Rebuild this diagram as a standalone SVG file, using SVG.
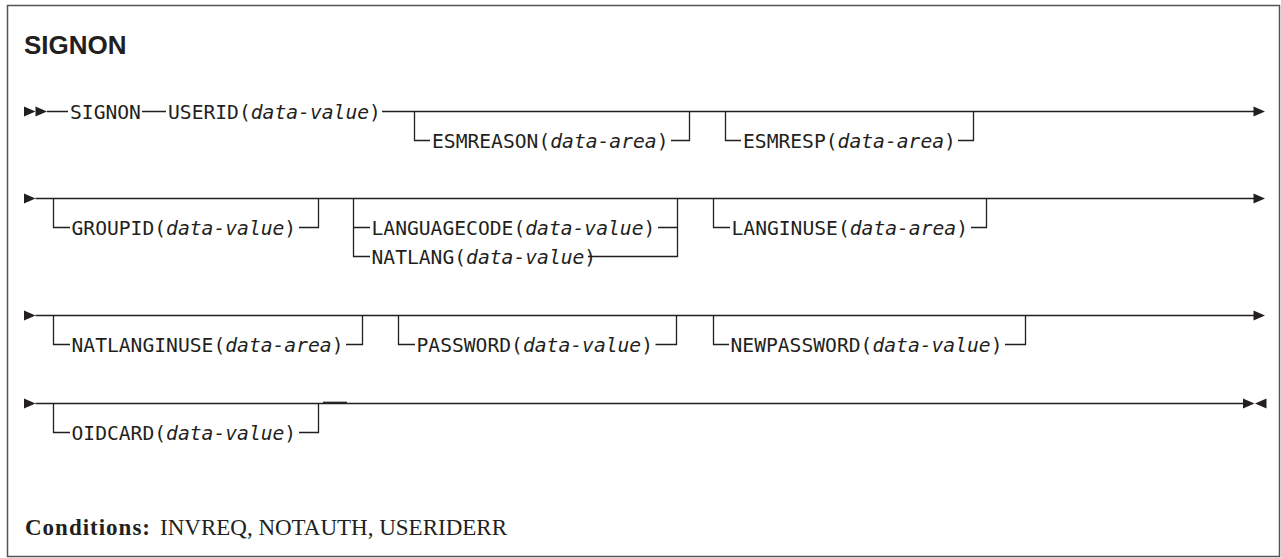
<svg xmlns="http://www.w3.org/2000/svg" width="1281" height="558" viewBox="0 0 1281 558">
<style>
.frame{fill:none;stroke:#555;stroke-width:1.5}
.ln{fill:none;stroke:#231f20;stroke-width:1.3}
.ah{fill:#231f20}
.kw{font-family:"DejaVu Sans Mono","Liberation Mono",monospace;font-size:19.65px;fill:#231f20}
.it{font-style:italic}
.title{font-family:"Liberation Sans",Arial,sans-serif;font-weight:bold;font-size:26px;fill:#231f20}
.cond{font-family:"Liberation Serif","Times New Roman",serif;font-size:23px;fill:#231f20}
.b{font-weight:bold}
</style>
<defs>
<path id="ar" d="M0,-5 L11.5,0 L0,5 Z"/>
<path id="al" d="M11.5,-5 L0,0 L11.5,5 Z"/>
</defs>
<rect class="frame" x="7.5" y="5.5" width="1272" height="551"/>
<g id="title"><text class="title" x="24" y="54">SIGNON</text></g>

<g id="connectors">
<g class="ah">
<use href="#ar" x="24" y="111.5"/><use href="#ar" x="35.5" y="111.5"/>
<use href="#ar" x="1253.5" y="111.5"/>
<use href="#ar" x="24" y="198.5"/><use href="#ar" x="1253.5" y="198.5"/>
<use href="#ar" x="24" y="315.5"/><use href="#ar" x="1253.5" y="315.5"/>
<use href="#ar" x="24" y="403.5"/><use href="#ar" x="1243" y="403.5"/><use href="#al" x="1255" y="403.5"/>
</g>
<path class="ln" d="M47 111.5 H68 M142 111.5 H166 M382 111.5 H1254"/>
<path class="ln" d="M414.5 111.5 V140.5 H430 M671 140.5 H689.5 V111.5"/>
<path class="ln" d="M725.5 111.5 V140.5 H741 M958 140.5 H973.5 V111.5"/>
<path class="ln" d="M35.5 198.5 H1254"/>
<path class="ln" d="M53.5 198.5 V227.5 H70 M299 227.5 H318.5 V198.5"/>
<path class="ln" d="M353.5 198.5 V256.5 H370 M353.5 227.5 H370 M658 227.5 H677.5 M588 256.5 H677.5 V198.5"/>
<path class="ln" d="M713.5 198.5 V227.5 H730 M971 227.5 H986.5 V198.5"/>
<path class="ln" d="M35.5 315.5 H1254"/>
<path class="ln" d="M53.5 315.5 V344.5 H70 M346 344.5 H362.5 V315.5"/>
<path class="ln" d="M398.5 315.5 V344.5 H415 M655.5 344.5 H676.5 V315.5"/>
<path class="ln" d="M713.5 315.5 V344.5 H729 M1005 344.5 H1025.5 V315.5"/>
<path class="ln" d="M35.5 403.5 H1243.5"/>
<path class="ln" d="M53.5 403.5 V432.5 H70 M299 432.5 H318.5 V403.5"/>
<path class="ln" d="M323 402.3 H347"/>
</g>

<g id="signon"><text class="kw" x="70" y="118.5">SIGNON</text></g>
<g id="userid"><text class="kw" x="168" y="118.5">USERID(<tspan class="it">data-value</tspan>)</text></g>
<g id="esmreason"><text class="kw" x="432" y="147.5">ESMREASON(<tspan class="it">data-area</tspan>)</text></g>
<g id="esmresp"><text class="kw" x="743" y="147.5">ESMRESP(<tspan class="it">data-area</tspan>)</text></g>
<g id="groupid"><text class="kw" x="71.5" y="234.5">GROUPID(<tspan class="it">data-value</tspan>)</text></g>
<g id="languagecode"><text class="kw" x="371.5" y="234.5">LANGUAGECODE(<tspan class="it">data-value</tspan>)</text></g>
<g id="natlang"><text class="kw" x="371.5" y="263.5">NATLANG(<tspan class="it">data-value</tspan>)</text></g>
<g id="langinuse"><text class="kw" x="731.5" y="234.5">LANGINUSE(<tspan class="it">data-area</tspan>)</text></g>
<g id="natlanginuse"><text class="kw" x="71.5" y="351.5">NATLANGINUSE(<tspan class="it">data-area</tspan>)</text></g>
<g id="password"><text class="kw" x="416.5" y="351.5">PASSWORD(<tspan class="it">data-value</tspan>)</text></g>
<g id="newpassword"><text class="kw" x="730.5" y="351.5">NEWPASSWORD(<tspan class="it">data-value</tspan>)</text></g>
<g id="oidcard"><text class="kw" x="71.5" y="439.5">OIDCARD(<tspan class="it">data-value</tspan>)</text></g>

<g id="conditions">
<text class="cond b" x="25" y="535" textLength="125">Conditions:</text>
<text class="cond" x="160" y="535">INVREQ, NOTAUTH, USERIDERR</text>
</g>
</svg>
